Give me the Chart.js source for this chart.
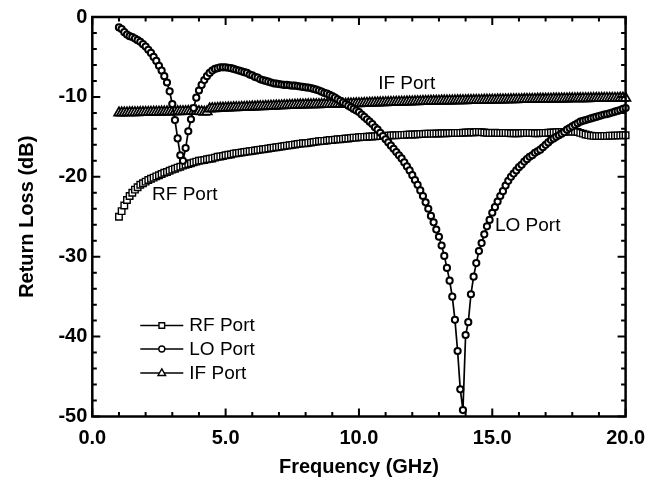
<!DOCTYPE html>
<html>
<head>
<meta charset="utf-8">
<script src="https://cdn.jsdelivr.net/npm/chart.js@4/dist/chart.umd.min.js"></script>
<style>
html,body{margin:0;padding:0;background:#fff;}
#wrap{width:660px;height:485px;}
</style>
</head>
<body>
<div id="wrap"><canvas id="c" width="660" height="485"></canvas></div>
<script>
// ---- data (frequency sweep in GHz, return loss in dB) ----
const freqGHz = [
 1.0,1.1,1.2,1.3,1.4,1.5,1.6,1.7,1.8,1.9,
 2.0,2.1,2.2,2.3,2.4,2.5,2.6,2.7,2.8,2.9,
 3.0,3.1,3.2,3.3,3.4,3.5,3.6,3.7,3.8,3.9,
 4.0,4.1,4.2,4.3,4.4,4.5,4.6,4.7,4.8,4.9,
 5.0,5.1,5.2,5.3,5.4,5.5,5.6,5.7,5.8,5.9,
 6.0,6.1,6.2,6.3,6.4,6.5,6.6,6.7,6.8,6.9,
 7.0,7.1,7.2,7.3,7.4,7.5,7.6,7.7,7.8,7.9,
 8.0,8.1,8.2,8.3,8.4,8.5,8.6,8.7,8.8,8.9,
 9.0,9.1,9.2,9.3,9.4,9.5,9.6,9.7,9.8,9.9,
 10.0,10.1,10.2,10.3,10.4,10.5,10.6,10.7,10.8,10.9,
 11.0,11.1,11.2,11.3,11.4,11.5,11.6,11.7,11.8,11.9,
 12.0,12.1,12.2,12.3,12.4,12.5,12.6,12.7,12.8,12.9,
 13.0,13.1,13.2,13.3,13.4,13.5,13.6,13.7,13.8,13.9,
 14.0,14.1,14.2,14.3,14.4,14.5,14.6,14.7,14.8,14.9,
 15.0,15.1,15.2,15.3,15.4,15.5,15.6,15.7,15.8,15.9,
 16.0,16.1,16.2,16.3,16.4,16.5,16.6,16.7,16.8,16.9,
 17.0,17.1,17.2,17.3,17.4,17.5,17.6,17.7,17.8,17.9,
 18.0,18.1,18.2,18.3,18.4,18.5,18.6,18.7,18.8,18.9,
 19.0,19.1,19.2,19.3,19.4,19.5,19.6,19.7,19.8,19.9,
 20.0
];

const rfPort = [
 -25.0,-24.3,-23.6,-22.9,-22.4,-22.0,-21.6,-21.3,-21.0,-20.8,
 -20.6,-20.4,-20.25,-20.1,-19.95,-19.8,-19.65,-19.5,-19.4,-19.25,
 -19.1,-19.0,-18.85,-18.75,-18.6,-18.5,-18.4,-18.3,-18.2,-18.1,
 -18.0,-17.95,-17.9,-17.8,-17.75,-17.7,-17.6,-17.5,-17.45,-17.4,
 -17.3,-17.25,-17.2,-17.1,-17.05,-17.0,-16.95,-16.9,-16.85,-16.8,
 -16.75,-16.7,-16.65,-16.6,-16.55,-16.5,-16.45,-16.4,-16.35,-16.3,
 -16.25,-16.2,-16.15,-16.1,-16.05,-16.0,-15.95,-15.9,-15.85,-15.8,
 -15.8,-15.75,-15.7,-15.65,-15.6,-15.55,-15.5,-15.5,-15.45,-15.4,
 -15.4,-15.35,-15.3,-15.3,-15.25,-15.2,-15.2,-15.15,-15.1,-15.1,
 -15.05,-15.0,-15.0,-14.98,-14.95,-14.95,-14.92,-14.9,-14.9,-14.88,
 -14.85,-14.85,-14.82,-14.8,-14.8,-14.78,-14.75,-14.75,-14.72,-14.7,
 -14.7,-14.7,-14.68,-14.65,-14.65,-14.62,-14.6,-14.6,-14.6,-14.58,
 -14.58,-14.55,-14.55,-14.55,-14.52,-14.52,-14.5,-14.5,-14.5,-14.48,
 -14.45,-14.45,-14.42,-14.45,-14.4,-14.4,-14.42,-14.45,-14.48,-14.5,
 -14.5,-14.48,-14.5,-14.52,-14.5,-14.5,-14.52,-14.55,-14.55,-14.55,
 -14.55,-14.52,-14.5,-14.5,-14.5,-14.52,-14.55,-14.55,-14.52,-14.5,
 -14.5,-14.48,-14.45,-14.45,-14.42,-14.4,-14.4,-14.38,-14.35,-14.35,
 -14.35,-14.35,-14.4,-14.5,-14.6,-14.7,-14.78,-14.85,-14.88,-14.9,
 -14.9,-14.9,-14.88,-14.88,-14.85,-14.85,-14.85,-14.82,-14.82,-14.8,
 -14.8
];

const loPort = [
 -1.3,-1.5,-1.9,-2.2,-2.4,-2.5,-2.7,-2.9,-3.1,-3.4,
 -3.7,-4.1,-4.5,-5.0,-5.5,-6.1,-6.7,-7.4,-8.2,-9.3,
 -10.9,-12.9,-15.2,-17.3,-18.0,-16.4,-14.3,-12.8,-11.4,-10.1,
 -9.2,-8.5,-7.9,-7.4,-7.0,-6.7,-6.5,-6.4,-6.3,-6.3,
 -6.3,-6.35,-6.4,-6.5,-6.6,-6.7,-6.8,-6.9,-7.0,-7.2,
 -7.3,-7.5,-7.6,-7.8,-7.9,-8.0,-8.1,-8.2,-8.3,-8.35,
 -8.4,-8.45,-8.5,-8.5,-8.55,-8.6,-8.6,-8.65,-8.7,-8.75,
 -8.8,-8.85,-8.9,-9.0,-9.1,-9.2,-9.35,-9.5,-9.6,-9.75,
 -9.9,-10.1,-10.3,-10.5,-10.7,-10.9,-11.1,-11.3,-11.5,-11.7,
 -11.9,-12.2,-12.5,-12.8,-13.1,-13.4,-13.8,-14.1,-14.5,-14.9,
 -15.3,-15.7,-16.1,-16.5,-16.9,-17.3,-17.7,-18.2,-18.7,-19.2,
 -19.8,-20.4,-21.0,-21.7,-22.4,-23.2,-24.0,-24.9,-25.7,-26.6,
 -27.5,-28.6,-29.9,-31.4,-33.0,-35.0,-37.9,-41.8,-46.6,-49.2,
 -39.8,-38.2,-34.7,-32.5,-30.8,-29.3,-28.3,-27.2,-26.2,-25.4,
 -24.5,-23.8,-23.1,-22.4,-21.8,-21.1,-20.5,-20.0,-19.6,-19.2,
 -18.8,-18.5,-18.1,-17.8,-17.5,-17.3,-17.0,-16.8,-16.6,-16.3,
 -16.0,-15.7,-15.4,-15.2,-15.0,-14.8,-14.6,-14.4,-14.1,-13.9,
 -13.7,-13.5,-13.3,-13.1,-13.0,-12.9,-12.8,-12.7,-12.6,-12.5,
 -12.4,-12.3,-12.2,-12.15,-12.05,-11.95,-11.85,-11.75,-11.65,-11.5,
 -11.4
];

const ifPort = [
 -12.0,-12.0,-11.98,-11.98,-11.97,-11.96,-11.95,-11.95,-11.94,-11.93,
 -11.92,-11.92,-11.91,-11.9,-11.9,-11.89,-11.88,-11.88,-11.87,-11.86,
 -11.85,-11.85,-11.84,-11.83,-11.82,-11.82,-11.81,-11.8,-11.8,-11.8,
 -11.82,-11.85,-11.9,-11.85,-11.5,-11.45,-11.45,-11.42,-11.4,-11.4,
 -11.38,-11.37,-11.35,-11.34,-11.33,-11.32,-11.3,-11.3,-11.28,-11.27,
 -11.25,-11.24,-11.22,-11.2,-11.2,-11.18,-11.17,-11.15,-11.14,-11.12,
 -11.1,-11.1,-11.08,-11.07,-11.05,-11.04,-11.03,-11.02,-11.0,-11.0,
 -10.98,-10.97,-10.97,-10.96,-10.95,-10.95,-10.94,-10.93,-10.93,-10.92,
 -10.92,-10.91,-10.9,-10.9,-10.89,-10.88,-10.87,-10.86,-10.85,-10.84,
 -10.83,-10.82,-10.8,-10.79,-10.78,-10.76,-10.75,-10.74,-10.72,-10.71,
 -10.7,-10.69,-10.68,-10.67,-10.66,-10.65,-10.64,-10.63,-10.62,-10.61,
 -10.6,-10.59,-10.58,-10.57,-10.56,-10.55,-10.54,-10.53,-10.52,-10.52,
 -10.51,-10.5,-10.5,-10.49,-10.48,-10.48,-10.47,-10.46,-10.46,-10.45,
 -10.45,-10.44,-10.43,-10.43,-10.42,-10.41,-10.41,-10.4,-10.4,-10.39,
 -10.38,-10.38,-10.37,-10.36,-10.36,-10.35,-10.35,-10.34,-10.33,-10.33,
 -10.32,-10.32,-10.31,-10.3,-10.3,-10.29,-10.29,-10.28,-10.28,-10.27,
 -10.27,-10.26,-10.26,-10.25,-10.25,-10.24,-10.24,-10.23,-10.23,-10.22,
 -10.22,-10.22,-10.21,-10.21,-10.2,-10.2,-10.2,-10.19,-10.19,-10.18,
 -10.18,-10.18,-10.17,-10.17,-10.17,-10.16,-10.16,-10.16,-10.15,-10.15,
 -10.15
];

const seriesLabels = ['RF Port', 'LO Port', 'IF Port'];
const xTicks = [0, 5, 10, 15, 20];
const yTicks = [0, -10, -20, -30, -40, -50];
// in-plot annotations: [text, frequency, dB]
const annotations = [
  ['RF Port', 2.24, -22.2],
  ['IF Port', 10.72, -8.3],
  ['LO Port', 15.1, -26.1]
];

const FONT = '"Liberation Sans", Arial, Helvetica, sans-serif';

function pts(vals){ return freqGHz.map((f,i)=>({x:f, y:vals[i]})); }

const styles = {
  'RF Port': {pointStyle:'rect', radius:4.6, bw:1.4, lw:1.3},
  'LO Port': {pointStyle:'circle', radius:3.1, bw:2, lw:1.7},
  'IF Port': {pointStyle:'triangle', radius:5.6, bw:1.7, lw:1.3}
};

function ds(label, vals, order){
  const s = styles[label];
  return {
    label, data: pts(vals), order,
    borderColor:'#000', borderWidth:s.lw, showLine:true, tension:0,
    pointStyle:s.pointStyle, pointRadius:s.radius, pointBorderWidth:s.bw,
    pointBackgroundColor:'#fff', pointBorderColor:'#000', clip:false
  };
}

const framePlugin = {
  id:'frame',
  afterDraw(chart){
    const {ctx, chartArea:a, scales:{x, y}} = chart;
    ctx.save();
    ctx.strokeStyle = '#000';
    ctx.lineWidth = 2;
    // minor/major ticks on all four sides, pointing inward
    for (let v = 0; v <= 20; v += 1){
      const px = x.getPixelForValue(v);
      const len = (v % 5 === 0) ? 8 : 4.5;
      ctx.beginPath();
      ctx.moveTo(px, a.bottom); ctx.lineTo(px, a.bottom - len);
      ctx.moveTo(px, a.top); ctx.lineTo(px, a.top + len);
      ctx.stroke();
    }
    for (let v = -50; v <= 0; v += 2){
      const py = y.getPixelForValue(v);
      const len = (v % 10 === 0) ? 8 : 4.5;
      ctx.beginPath();
      ctx.moveTo(a.left, py); ctx.lineTo(a.left + len, py);
      ctx.moveTo(a.right, py); ctx.lineTo(a.right - len, py);
      ctx.stroke();
    }
    ctx.lineWidth = 2.5;
    ctx.strokeRect(a.left, a.top, a.right - a.left, a.bottom - a.top);

    // annotations
    ctx.fillStyle = '#000';
    ctx.font = '19px ' + FONT;
    ctx.textAlign = 'left';
    ctx.textBaseline = 'middle';
    annotations.forEach(([t, f, d]) => {
      ctx.fillText(t, x.getPixelForValue(f), y.getPixelForValue(d));
    });

    // legend
    const lx0 = a.left + 48, lx1 = a.left + 91, tx = a.left + 97;
    const rows = [a.top + 308.5, a.top + 332, a.top + 356];
    chart.data.datasets.slice().sort((p,q)=>seriesLabels.indexOf(p.label)-seriesLabels.indexOf(q.label)).forEach((d, i) => {
      const yy = rows[i];
      const mx = (lx0 + lx1) / 2;
      ctx.lineWidth = 1.6;
      ctx.strokeStyle = '#000';
      ctx.beginPath(); ctx.moveTo(lx0, yy); ctx.lineTo(lx1, yy); ctx.stroke();
      ctx.fillStyle = '#fff';
      ctx.lineWidth = 1.4;
      ctx.beginPath();
      if (d.pointStyle === 'rect') {
        ctx.rect(mx - 2.8, yy - 2.8, 5.6, 5.6);
      } else if (d.pointStyle === 'circle') {
        ctx.arc(mx, yy, 3, 0, Math.PI * 2);
      } else {
        ctx.moveTo(mx, yy - 4.2); ctx.lineTo(mx + 3.8, yy + 2.5); ctx.lineTo(mx - 3.8, yy + 2.5); ctx.closePath();
      }
      ctx.fill(); ctx.stroke();
      ctx.fillStyle = '#000';
      ctx.font = '19px ' + FONT;
      ctx.textBaseline = 'middle';
      ctx.fillText(d.label, tx, yy + 0.5);
    });
    ctx.restore();
  }
};

new Chart(document.getElementById('c'), {
  type:'line',
  data:{
    datasets:[
      ds('RF Port', rfPort, 1),
      ds('LO Port', loPort, 0),
      ds('IF Port', ifPort, 2)
    ]
  },
  options:{
    responsive:false,
    animation:false,
    devicePixelRatio:1,
    layout:{padding:{left:15, top:15, right:34.4, bottom:6}},
    plugins:{legend:{display:false}, tooltip:{enabled:false}},
    scales:{
      x:{
        type:'linear', min:0, max:20,
        afterBuildTicks(s){ s.ticks = xTicks.map(v=>({value:v})); },
        ticks:{ callback:v=>Number(v).toFixed(1), color:'#000', padding:10, maxRotation:0,
                font:{family:FONT, size:20, weight:'bold'} },
        grid:{display:false, drawTicks:false},
        border:{display:false},
        title:{display:true, text:'Frequency (GHz)', color:'#000', padding:0,
               font:{family:FONT, size:20, weight:'bold'}},
        afterFit(s){ s.height = 62.5; }
      },
      y:{
        type:'linear', min:-50, max:0,
        afterBuildTicks(s){ s.ticks = yTicks.map(v=>({value:v})); },
        ticks:{ color:'#000', padding:5, font:{family:FONT, size:20, weight:'bold'} },
        grid:{display:false, drawTicks:false},
        border:{display:false},
        title:{display:true, text:'Return Loss (dB)', color:'#000', padding:0,
               font:{family:FONT, size:20, weight:'bold'}},
        afterFit(s){ s.width = 77.3; }
      }
    }
  },
  plugins:[framePlugin]
});
</script>
</body>
</html>
